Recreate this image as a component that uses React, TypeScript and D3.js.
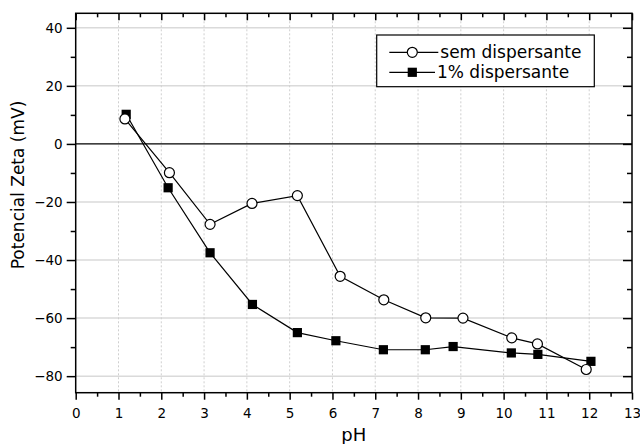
import React, { useEffect, useRef } from 'react';
import * as d3 from 'd3';

const phSem = [1.15, 2.19, 3.14, 4.12, 5.18, 6.18, 7.2, 8.18, 9.05, 10.19, 10.79, 11.93];
const zetaSem = [8.6, -9.9, -27.7, -20.5, -17.8, -45.6, -53.7, -59.9, -60, -66.8, -68.9, -77.7];

const phDisp = [1.18, 2.16, 3.14, 4.13, 5.18, 6.08, 7.19, 8.17, 8.82, 10.18, 10.8, 12.04];
const zetaDisp = [10.2, -15.1, -37.5, -55.3, -65, -67.8, -70.9, -70.9, -69.8, -72, -72.5, -74.9];

const xTicks = d3.range(0, 14);
const xMinor = d3.range(0.5, 13, 1);
const yTicks = [-80, -60, -40, -20, 0, 20, 40];
const yMinor = [-70, -50, -30, -10, 10, 30];

const legendLabels = ['sem dispersante', '1% dispersante'];

const FONT = '"DejaVu Sans", "Liberation Sans", Arial, sans-serif';

export default function App() {
  const ref = useRef<SVGSVGElement>(null);

  useEffect(() => {
    const svg = d3.select(ref.current);
    svg.selectAll('*').remove();

    const left = 75.7,
      right = 632,
      top = 13.3,
      bottom = 392.7;

    const x = d3.scaleLinear().domain([0, 13]).range([left, right]);
    const y = d3.scaleLinear().domain([-85.7, 45]).range([bottom, top]);

    const g = svg.append('g');

    // grid
    g.selectAll('.hgrid')
      .data(yTicks.filter(d => d !== 0))
      .enter()
      .append('line')
      .attr('x1', left)
      .attr('x2', right)
      .attr('y1', d => y(d))
      .attr('y2', d => y(d))
      .attr('stroke', '#dadada')
      .attr('stroke-width', 1.5);

    g.selectAll('.vgrid')
      .data(xTicks.slice(1, 13))
      .enter()
      .append('line')
      .attr('x1', d => x(d))
      .attr('x2', d => x(d))
      .attr('y1', top)
      .attr('y2', bottom)
      .attr('stroke', '#cfcfcf')
      .attr('stroke-width', 1)
      .attr('stroke-dasharray', '2,2');

    // zero line
    g.append('line')
      .attr('x1', left)
      .attr('x2', right)
      .attr('y1', y(0))
      .attr('y2', y(0))
      .attr('stroke', '#000')
      .attr('stroke-width', 1.2);

    const styleAxis = sel => {
      sel.select('.domain').remove();
      sel.selectAll('line').attr('stroke', '#000').attr('stroke-width', 1.5);
      sel.selectAll('text').attr('font-family', FONT).attr('font-size', 13.5).attr('fill', '#000');
    };

    // bottom
    g.append('g')
      .attr('transform', `translate(0,${bottom})`)
      .call(d3.axisBottom(x).tickValues(xTicks).tickSize(7).tickPadding(9).tickFormat(d3.format('d')))
      .call(styleAxis);
    g.append('g')
      .attr('transform', `translate(0,${bottom})`)
      .call(d3.axisBottom(x).tickValues(xMinor).tickSize(4).tickFormat(() => ''))
      .call(styleAxis);

    // top (inward)
    g.append('g')
      .attr('transform', `translate(0,${top})`)
      .call(d3.axisBottom(x).tickValues(xTicks).tickSize(7).tickFormat(() => ''))
      .call(styleAxis);
    g.append('g')
      .attr('transform', `translate(0,${top})`)
      .call(d3.axisBottom(x).tickValues(xMinor).tickSize(4).tickFormat(() => ''))
      .call(styleAxis);

    // left
    g.append('g')
      .attr('transform', `translate(${left},0)`)
      .call(d3.axisLeft(y).tickValues(yTicks).tickSize(9).tickPadding(4).tickFormat(d3.format('d')))
      .call(styleAxis);
    g.append('g')
      .attr('transform', `translate(${left},0)`)
      .call(d3.axisLeft(y).tickValues(yMinor).tickSize(5).tickFormat(() => ''))
      .call(styleAxis);

    // right (inward)
    g.append('g')
      .attr('transform', `translate(${right},0)`)
      .call(d3.axisLeft(y).tickValues(yTicks).tickSize(9).tickFormat(() => ''))
      .call(styleAxis);
    g.append('g')
      .attr('transform', `translate(${right},0)`)
      .call(d3.axisLeft(y).tickValues(yMinor).tickSize(5).tickFormat(() => ''))
      .call(styleAxis);

    // frame
    g.append('rect')
      .attr('x', left)
      .attr('y', top)
      .attr('width', right - left)
      .attr('height', bottom - top)
      .attr('fill', 'none')
      .attr('stroke', '#000')
      .attr('stroke-width', 1.5);

    // axis titles
    g.append('text')
      .attr('x', (left + right) / 2)
      .attr('y', 441)
      .attr('text-anchor', 'middle')
      .attr('font-family', FONT)
      .attr('font-size', 18)
      .text('pH');

    g.append('text')
      .attr('transform', `translate(24,${185}) rotate(-90)`)
      .attr('text-anchor', 'middle')
      .attr('font-family', FONT)
      .attr('font-size', 17)
      .text('Potencial Zeta (mV)');

    // series
    const line = d3
      .line<number[]>()
      .x(d => x(d[0]))
      .y(d => y(d[1]));

    const semPts = phSem.map((p, i) => [p, zetaSem[i]]);
    const dispPts = phDisp.map((p, i) => [p, zetaDisp[i]]);

    g.append('path').attr('d', line(semPts)).attr('fill', 'none').attr('stroke', '#000').attr('stroke-width', 1.2);
    g.append('path').attr('d', line(dispPts)).attr('fill', 'none').attr('stroke', '#000').attr('stroke-width', 1.2);

    g.selectAll('.sq')
      .data(dispPts)
      .enter()
      .append('rect')
      .attr('x', d => x(d[0]) - 4.6)
      .attr('y', d => y(d[1]) - 4.6)
      .attr('width', 9.2)
      .attr('height', 9.2)
      .attr('fill', '#000');

    g.selectAll('.ci')
      .data(semPts)
      .enter()
      .append('circle')
      .attr('cx', d => x(d[0]))
      .attr('cy', d => y(d[1]))
      .attr('r', 5)
      .attr('fill', '#fff')
      .attr('stroke', '#000')
      .attr('stroke-width', 1.2);

    // legend
    const lg = g.append('g');
    lg.append('rect')
      .attr('x', 376.7)
      .attr('y', 35)
      .attr('width', 217.6)
      .attr('height', 51.7)
      .attr('fill', '#fff')
      .attr('stroke', '#000')
      .attr('stroke-width', 1.2);

    legendLabels.forEach((lab, i) => {
      const ly = 52.3 + i * 20;
      const x2 = i === 0 ? 438.3 : 435;
      lg.append('line')
        .attr('x1', 389.3)
        .attr('x2', x2)
        .attr('y1', ly)
        .attr('y2', ly)
        .attr('stroke', '#000')
        .attr('stroke-width', 1.2);
      if (i === 0) {
        lg.append('circle')
          .attr('cx', 412.3)
          .attr('cy', ly)
          .attr('r', 5)
          .attr('fill', '#fff')
          .attr('stroke', '#000')
          .attr('stroke-width', 1.2);
      } else {
        lg.append('rect')
          .attr('x', 412.3 - 4.6)
          .attr('y', ly - 4.6)
          .attr('width', 9.2)
          .attr('height', 9.2)
          .attr('fill', '#000');
      }
      lg.append('text')
        .attr('x', x2 + 2)
        .attr('y', ly + 6)
        .attr('font-family', FONT)
        .attr('font-size', 17)
        .text(lab);
    });
  }, []);

  return (
    <svg
      ref={ref}
      width={640}
      height={444}
      style={{ position: 'absolute', left: 0, top: 0, background: '#fff' }}
    />
  );
}
